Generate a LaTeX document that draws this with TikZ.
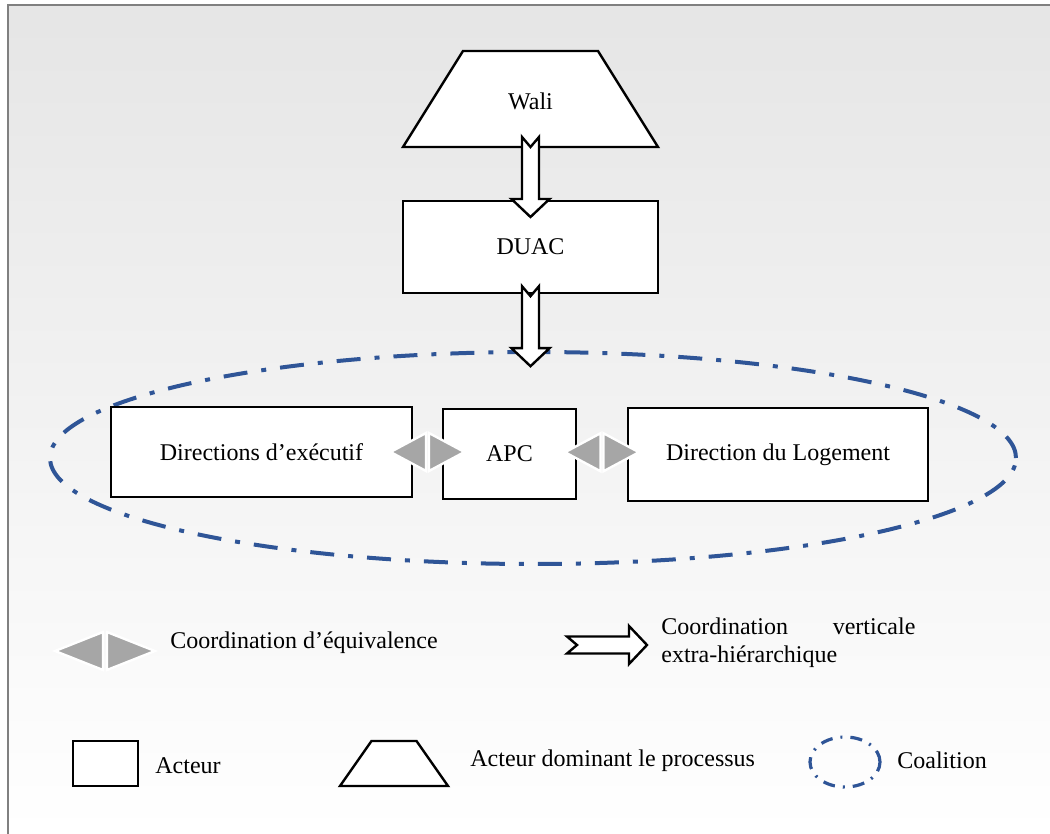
\documentclass[tikz,border=0pt]{standalone}
\usepackage{fontspec}
\setmainfont{Liberation Serif}
\usepackage{tikz}
\usetikzlibrary{shapes.geometric,positioning,calc}
\definecolor{coalblue}{HTML}{2F5597}
\tikzstyle{acteur}=[draw,fill=white,line width=1.2pt,inner sep=0pt]
\tikzstyle{coalition}=[draw=coalblue,ellipse,line width=2pt,dash pattern=on 12pt off 7pt on 2.5pt off 7pt]
\tikzstyle{legende}=[anchor=west,inner sep=0pt]
\tikzset{
  flow/.pic={
    \draw[fill=white,line width=1.2pt,line join=miter]
      (-8.5,0) -- (0,10) -- (8.5,0) -- (8.5,62) -- (19,62) -- (0,80)
      -- (-19,62) -- (-8.5,62) -- cycle;
  },
  equiv/.pic={
    \filldraw[fill=black!35,draw=white,line width=1.2pt,line join=miter]
      (-37,0) -- (-1.5,-19) -- (-1.5,19) -- cycle
      (37,0) -- (1.5,-19) -- (1.5,19) -- cycle;
  }
}
% trapeze : nom, centre, demi-base, demi-sommet, demi-hauteur
\newcommand{\trapeze}[5]{%
  \path (#2) coordinate (#1-c);
  \draw[acteur] ($(#1-c)+(-#3,#5)$) -- ($(#1-c)+(#3,#5)$)
    -- ($(#1-c)+(#4,-#5)$) -- ($(#1-c)+(-#4,-#5)$) -- cycle;
}

\begin{document}
\begin{tikzpicture}[x=0.5pt,y=-0.5pt,font=\fontsize{12}{14}\selectfont]
\useasboundingbox (0,0) rectangle (1050,834);
\shade[top color=black!10,bottom color=white] (8,5) rectangle (1050,834);
\draw[black!50,line width=1pt] (8,834) -- (8,5) -- (1050,5);

\node (coal) [coalition,minimum width=483pt,minimum height=106pt] at (533,458) {};

\trapeze{walishape}{530.5,99}{127.5}{67.5}{48}
\node (wali) [inner sep=0pt,minimum width=127.5pt,minimum height=48pt] at (530.5,101) {Wali};
\node (duac) [acteur,minimum width=127.5pt,minimum height=46pt] at (530.5,247) {DUAC};
\node (dirx) [acteur,minimum width=150.5pt,minimum height=45pt] at (261.5,452) {Directions d’exécutif};
\node (apc) [acteur,minimum width=66.5pt,minimum height=45pt] at (509.5,454) {APC};
\node (dlog) [acteur,minimum width=150pt,minimum height=46.5pt] at (778,454.5) {Direction du Logement};

\path (walishape-c) ++(0,38) pic {flow};
\path (duac.south) ++(0,-8) pic {flow};
\path ($(dirx.east)!0.5!(apc.west)$) ++(0,-1) pic {equiv};
\path ($(apc.east)!0.5!(dlog.west)$) ++(0,-2) pic {equiv};

% legende
\path (105,651) pic[xscale=1.35] {equiv};
\node (leq) [legende] at (170,643) {Coordination d’équivalence};
\path (567,645) pic[rotate=90] {flow};
\node (lvert) [legende,text width=127pt,align=left] at (661,643) {Coordination\hfill verticale\\extra-hiérarchique};
\node (lact) [acteur,minimum width=32.5pt,minimum height=22.5pt] at (105.5,763.5) {};
\node [legende] at (155,766) {Acteur};
\trapeze{ldom}{394,763.5}{54}{22.5}{22.5}
\node [legende] at (470,761) {Acteur dominant le processus};
\node (lcoal) [coalition,line width=1.6pt,dash pattern=on 6pt off 4pt on 1pt off 4pt,minimum width=35pt,minimum height=25pt] at (845,762) {};
\node [legende] at (897,760) {Coalition};
\end{tikzpicture}
\end{document}
